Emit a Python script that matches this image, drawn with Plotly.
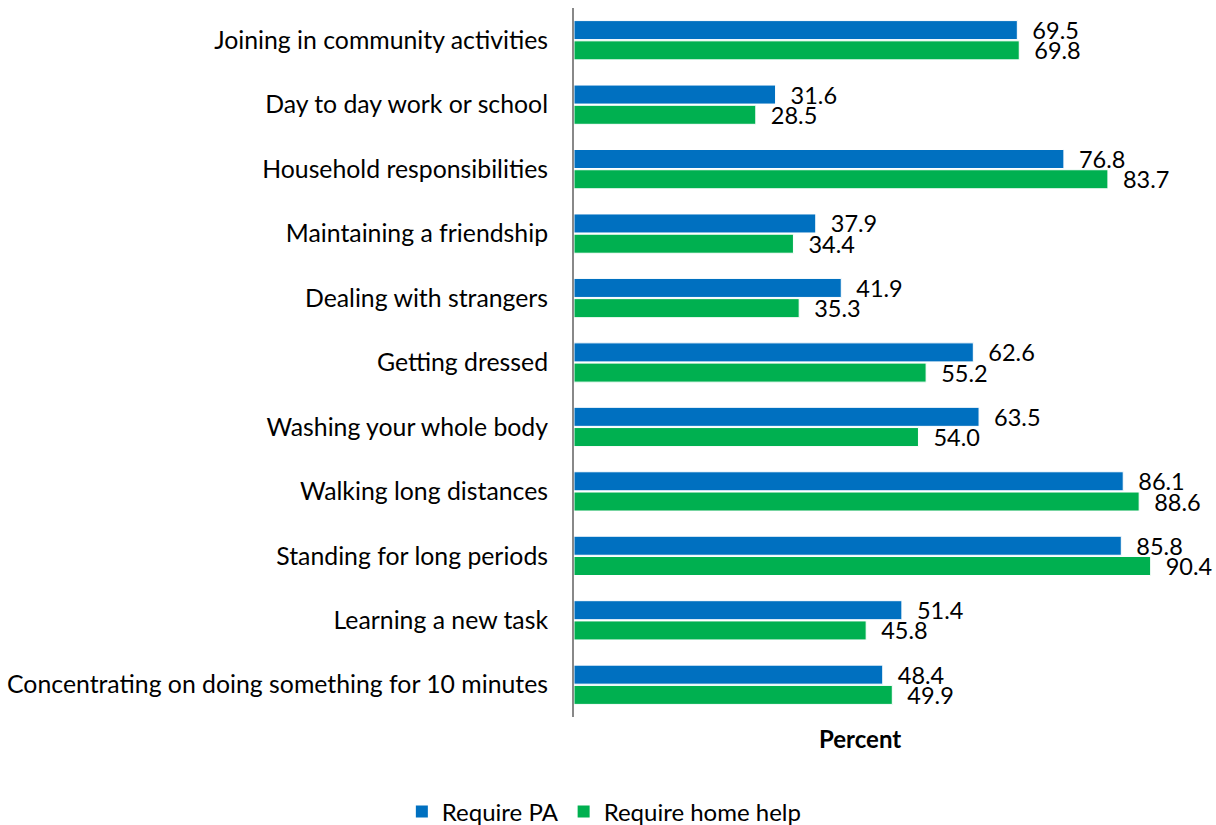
import plotly.graph_objects as go

categories = [
    "Joining in community activities",
    "Day to day work or school",
    "Household responsibilities",
    "Maintaining a friendship",
    "Dealing with strangers",
    "Getting dressed",
    "Washing your whole body",
    "Walking long distances",
    "Standing for long periods",
    "Learning a new task",
    "Concentrating on doing something for 10 minutes",
]
require_pa = [69.5, 31.6, 76.8, 37.9, 41.9, 62.6, 63.5, 86.1, 85.8, 51.4, 48.4]
require_home_help = [69.8, 28.5, 83.7, 34.4, 35.3, 55.2, 54.0, 88.6, 90.4, 45.8, 49.9]
series_names = ["Require PA", "Require home help"]
series_colors = ["#0070C0", "#00B050"]

FONT = "Lato"
FS = 24.8
W, H = 1216, 825
L, R, T, B = 574, 36, 8, 108

fig = go.Figure()
for name, vals, color in zip(series_names, [require_pa, require_home_help], series_colors):
    fig.add_trace(go.Bar(
        y=categories, x=vals, name=name, orientation="h", showlegend=False,
        marker=dict(color=color, line=dict(color="white", width=1)),
        text=[f"{v:.1f}" for v in vals],
        texttemplate="  %{text}",
        textposition="outside", constraintext="none", cliponaxis=False,
        textfont=dict(family=FONT, size=23.5, color="#000000"),
    ))
# legend swatches
for name, color in zip(series_names, series_colors):
    fig.add_trace(go.Scatter(
        x=[None], y=[None], mode="markers", name=name,
        marker=dict(symbol="square", size=16, color=color),
        showlegend=True,
    ))

fig.update_layout(
    width=W, height=H,
    margin=dict(l=L, r=R, t=T, b=B, autoexpand=False),
    paper_bgcolor="white", plot_bgcolor="white",
    barmode="group", bargap=0.372, bargroupgap=0.06,
    font=dict(family=FONT, size=FS, color="#000000"),
    legend=dict(orientation="h", xref="container", yref="container",
                x=0.497, xanchor="center", y=(H - 812) / H, yanchor="middle",
                font=dict(family=FONT, size=24, color="#000000"),
                itemsizing="constant", traceorder="normal", itemwidth=30,
                tracegroupgap=0),
    xaxis=dict(range=[0, 95], visible=False, showgrid=False, zeroline=False),
    yaxis=dict(autorange="reversed", showline=True, linecolor="#888888", linewidth=2,
               ticks="", showgrid=False, ticklabelstandoff=19,
               tickfont=dict(family=FONT, size=FS, color="#000000")),
    annotations=[dict(text="<b>Percent</b>", xref="paper", yref="paper",
                      x=(860 - L) / (W - L - R), y=-(738 - (H - B)) / (H - T - B),
                      xanchor="center", yanchor="middle", showarrow=False,
                      font=dict(family=FONT, size=24, color="#000000"))],
)

fig.write_html("out.html")
